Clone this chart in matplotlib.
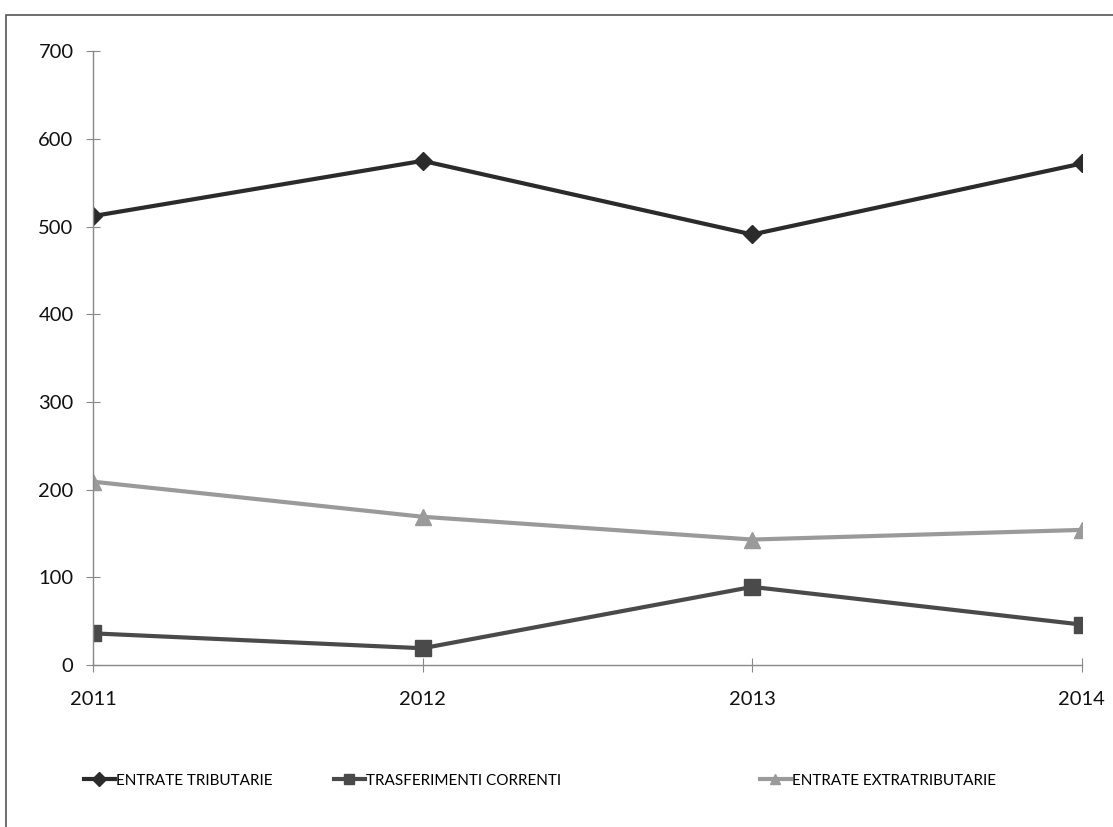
import matplotlib.pyplot as plt
from matplotlib.patches import Rectangle
from matplotlib.lines import Line2D

years = ['2011', '2012', '2013', '2014']
tributarie = [512, 575, 491, 572]
trasferimenti = [36, 19, 89, 46]
extratributarie = [209, 169, 143, 154]

labels = ['ENTRATE TRIBUTARIE', 'TRASFERIMENTI CORRENTI', 'ENTRATE EXTRATRIBUTARIE']
colors = ['#2b2b2b', '#4a4a4a', '#9a9a9a']
markers = ['D', 's', '^']
msizes = [9, 12, 11]

plt.rcParams['font.family'] = ['Lato', 'DejaVu Sans']

fig = plt.figure(figsize=(11.13, 8.27), dpi=100)
ax = fig.add_axes([0.0836, 0.196, 0.8884, 0.742])

x = range(len(years))
series = [tributarie, trasferimenti, extratributarie]
handles = []
for vals, c, m, ms, lab in zip(series, colors, markers, msizes, labels):
    ax.plot(x, vals, color=c, lw=3, marker=m, ms=ms, mfc=c, mec=c, label=lab)
    handles.append(Line2D([0], [0], color=c, lw=3, marker=m, ms=7, mfc=c, mec=c))

ax.set_xlim(0, 3)
ax.set_ylim(0, 700)
ax.set_xticks(list(x))
ax.set_xticklabels(years)
ax.set_yticks(range(0, 701, 100))
for s in ['top', 'right']:
    ax.spines[s].set_visible(False)
ax.spines['left'].set_color('#888888')
ax.spines['left'].set_linestyle((0, (1, 1)))
ax.spines['bottom'].set_color('#888888')
ax.spines['bottom'].set_linestyle((0, (1, 1)))
ax.tick_params(axis='both', direction='inout', length=10, color='#888888',
               labelsize=14.5, labelcolor='#111111')
ax.tick_params(axis='y', pad=9)
ax.tick_params(axis='x', pad=14)
for sp in ax.spines.values():
    sp.set_linewidth(1)

# one legend per entry, placed like the original
for h, lab, xl in zip(handles, labels, [84, 334, 760]):
    fig.legend([h], [lab], loc='center left', bbox_to_anchor=(xl / 1113, 0.056),
               frameon=False, fontsize=11, handlelength=2, borderpad=0,
               borderaxespad=0, handletextpad=0.1)

fig.patches.append(Rectangle((6 / 1113, -0.05), 1.2, 1 - 15 / 827 + 0.05,
                             transform=fig.transFigure, fill=False,
                             edgecolor='#555555', lw=1.2))

fig.savefig('out.png', dpi=100)
